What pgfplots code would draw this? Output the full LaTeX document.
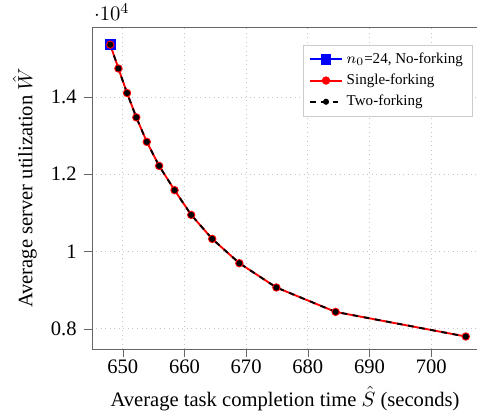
\documentclass[border={3.2pt 1pt 0pt 2pt},11pt]{standalone}
\usepackage{fontspec}
\setmainfont{Liberation Serif}
\usepackage{pgfplots}
\pgfplotsset{compat=1.18}

\begin{document}
\begin{tikzpicture}[trim right=(trimpt)]
  \begin{axis}[name=a,scale only axis,width=205.5pt,height=171.4pt,
      xmin=645,xmax=707.6,ymin=7475,ymax=15810,
      xtick={650,660,670,680,690,700},ytick={8000,10000,12000,14000},
      tick align=outside,xtick pos=bottom,ytick pos=left,
      axis line style={gray!80!black},tick style={gray!80!black},
      grid=major,major grid style={dotted,gray!45},
      /pgf/number format/assume math mode=true,
      xticklabel style={yshift=2.4pt},
      every y tick scale label/.style={at={(rel axis cs:0,1)},anchor=base west,
        inner sep=0pt,xshift=1pt,yshift=3.2pt},
      xlabel={Average task completion time $\hat{S}$ (seconds)},
      xlabel style={yshift=0.6pt},
      ylabel={Average server utilization $\hat{W}$},
      legend style={at={(0.986,0.945)},anchor=north east,
        font=\fontsize{8}{9.4}\selectfont,draw=gray!40},
      legend cell align=left]
    \addplot[blue,line width=1pt,mark=square*,mark size=2.3pt] coordinates {
      (647.98,15350)};
    \addplot[red,line width=1pt,mark=*,mark size=1.7pt] coordinates {
      (647.98,15350)(649.3,14735)(650.7,14100)(652.2,13470)(653.9,12836)
      (655.9,12215)(658.4,11586)(661.1,10947)(664.5,10326)(668.9,9697)
      (674.9,9069)(684.5,8437)(705.6,7800)};
    \addplot[black,line width=1pt,dashed,mark=*,mark size=1.1pt,mark options={solid}] coordinates {
      (647.98,15350)(649.3,14735)(650.7,14100)(652.2,13470)(653.9,12836)
      (655.9,12215)(658.4,11586)(661.1,10947)(664.5,10326)(668.9,9697)
      (674.9,9069)(684.5,8437)(705.6,7800)};
    \legend{{$n_0$=24, No-forking},Single-forking,Two-forking}
  \end{axis}
  \coordinate (trimpt) at ([xshift=-0.6pt]a.south east);
\end{tikzpicture}
\end{document}
